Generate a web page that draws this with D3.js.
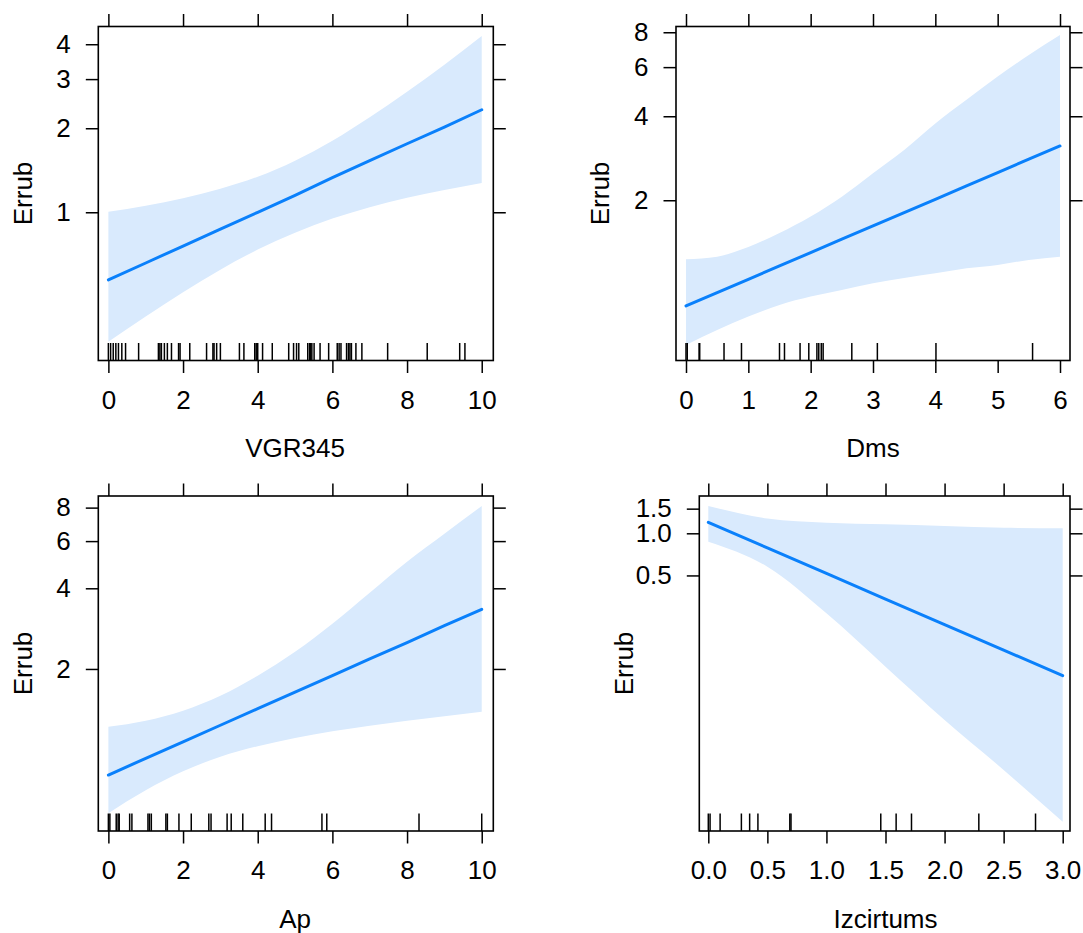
<!DOCTYPE html>
<html>
<head>
<meta charset="utf-8">
<script src="https://cdn.jsdelivr.net/npm/d3@7"></script>
<style>
  html, body { margin: 0; padding: 0; background: #fff; }
  svg { display: block; }
  text { font-family: "Liberation Sans", Arial, sans-serif; fill: #000; }
</style>
</head>
<body>
<svg id="chart" width="1083" height="933"></svg>
<script>
// ---------------- data ----------------
const yLabel = "Errub";

// Panel 1: VGR345
const vgrX     = [0, 1, 2, 3, 4, 5, 6, 7, 8, 9, 10];
const vgrFit   = [0.572, 0.658, 0.757, 0.871, 1.00, 1.15, 1.33, 1.53, 1.76, 2.02, 2.33];
const vgrLower = [0.344, 0.423, 0.517, 0.623, 0.735, 0.845, 0.949, 1.043, 1.128, 1.202, 1.273];
const vgrUpper = [1.005, 1.056, 1.123, 1.215, 1.341, 1.531, 1.805, 2.192, 2.705, 3.38, 4.283];
const vgrRug   = [0, 0.06, 0.13, 0.2, 0.27, 0.36, 0.46, 0.81, 1.34, 1.38, 1.42, 1.5, 1.58, 1.69, 1.88, 1.92,
                  2.18, 2.63, 2.8, 2.83, 2.9, 3.0, 3.51, 3.63, 3.92, 3.96, 4.0, 4.13, 4.39, 4.83, 4.96, 5.04,
                  5.1, 5.34, 5.39, 5.42, 5.45, 5.51, 5.67, 5.9, 6.13, 6.18, 6.23, 6.38, 6.43, 6.47, 6.51,
                  6.63, 6.79, 7.48, 8.54, 9.41, 9.55];
const vgrXTicks = [0, 2, 4, 6, 8, 10];
const vgrYTicks = [1, 2, 3, 4];

// Panel 2: Dms
const dmsX     = [0, 0.5, 1, 1.5, 2, 2.5, 3, 3.5, 4, 4.5, 5, 5.5, 6];
const dmsFit   = [0.836, 0.933, 1.042, 1.163, 1.298, 1.45, 1.618, 1.806, 2.016, 2.25, 2.51, 2.81, 3.13];
const dmsLower = [0.606, 0.686, 0.766, 0.843, 0.903, 0.954, 1.008, 1.054, 1.095, 1.141, 1.173, 1.222, 1.256];
const dmsUpper = [1.23, 1.256, 1.36, 1.527, 1.75, 2.06, 2.50, 3.03, 3.77, 4.58, 5.55, 6.63, 7.82];
const dmsRug   = [0, 0.02, 0.21, 0.22, 0.61, 0.89, 1.5, 1.58, 1.83, 1.97, 2.1, 2.13, 2.17, 2.2, 2.66, 3.07, 4.01, 5.56];
const dmsXTicks = [0, 1, 2, 3, 4, 5, 6];
const dmsYTicks = [2, 4, 6, 8];

// Panel 3: Ap
const apX     = [0, 1, 2, 3, 4, 5, 6, 7, 8, 9, 10];
const apFit   = [0.804, 0.928, 1.069, 1.233, 1.422, 1.639, 1.89, 2.18, 2.51, 2.90, 3.34];
const apLower = [0.579, 0.705, 0.830, 0.941, 1.030, 1.106, 1.171, 1.228, 1.282, 1.333, 1.386];
const apUpper = [1.218, 1.283, 1.398, 1.590, 1.888, 2.320, 2.952, 3.852, 5.028, 6.395, 8.11];
const apRug   = [0, 0.04, 0.21, 0.26, 0.29, 0.57, 0.63, 1.06, 1.1, 1.15, 1.54, 1.58, 1.89, 2.22, 2.69, 2.75,
                 3.18, 3.29, 3.6, 4.2, 4.37, 5.72, 5.85, 8.32, 10];
const apXTicks = [0, 2, 4, 6, 8, 10];
const apYTicks = [2, 4, 6, 8];

// Panel 4: Izcirtums
const izcX     = [0, 0.5, 1, 1.5, 2, 2.5, 3];
const izcFit   = [1.198, 0.787, 0.517, 0.339, 0.223, 0.1465, 0.0961];
const izcLower = [0.871, 0.577, 0.268, 0.1115, 0.0464, 0.0204, 0.0087];
const izcUpper = [1.567, 1.275, 1.19, 1.16, 1.127, 1.096, 1.086];
const izcRug   = [0, 0.015, 0.1, 0.28, 0.35, 0.42, 0.69, 0.7, 1.46, 1.59, 1.72, 2.29, 2.77];
const izcXTicks = [0, 0.5, 1, 1.5, 2, 2.5, 3];
const izcYTicks = [0.5, 1.0, 1.5];

// ---------------- layout ----------------
const panels = [
  { title: "VGR345", xs: vgrX, fit: vgrFit, lo: vgrLower, hi: vgrUpper, rug: vgrRug,
    xTicks: vgrXTicks, yTicks: vgrYTicks, fmt: d3.format("d"),
    box: { left: 98.3, top: 26.5, right: 493.3, bottom: 360.5 },
    xDomain: [-0.27, 10.31], yDomain: [0.2944, 4.63] },
  { title: "Dms", xs: dmsX, fit: dmsFit, lo: dmsLower, hi: dmsUpper, rug: dmsRug,
    xTicks: dmsXTicks, yTicks: dmsYTicks, fmt: d3.format("d"),
    box: { left: 676, top: 26.5, right: 1070, bottom: 360.5 },
    xDomain: [-0.1604, 6.1604], yDomain: [0.533, 8.39] },
  { title: "Ap", xs: apX, fit: apFit, lo: apLower, hi: apUpper, rug: apRug,
    xTicks: apXTicks, yTicks: apYTicks, fmt: d3.format("d"),
    box: { left: 98.3, top: 496, right: 493.3, bottom: 831 },
    xDomain: [-0.27, 10.31], yDomain: [0.497, 8.84] },
  { title: "Izcirtums", xs: izcX, fit: izcFit, lo: izcLower, hi: izcUpper, rug: izcRug,
    xTicks: izcXTicks, yTicks: izcYTicks, fmt: d3.format(".1f"),
    box: { left: 699.3, top: 496, right: 1070, bottom: 831 },
    xDomain: [-0.0762, 3.0618], yDomain: [0.00747, 1.847] }
];

const FONT = 26;
const TICK = 12.5;
const svg = d3.select("#chart");

panels.forEach(p => {
  const b = p.box;
  const x = d3.scaleLinear().domain(p.xDomain).range([b.left, b.right]);
  const y = d3.scaleLog().domain(p.yDomain).range([b.bottom, b.top]);
  const g = svg.append("g");
  const pts = p.xs.map((v, i) => ({ x: v, fit: p.fit[i], lo: p.lo[i], hi: p.hi[i] }));

  // confidence band
  g.append("path")
    .datum(pts)
    .attr("fill", "#d9eafd")
    .attr("stroke", "none")
    .attr("d", d3.area().x(d => x(d.x)).y0(d => y(d.lo)).y1(d => y(d.hi)).curve(d3.curveMonotoneX));

  // fitted line
  g.append("path")
    .datum(pts)
    .attr("fill", "none")
    .attr("stroke", "#0a80fb")
    .attr("stroke-width", 3)
    .attr("stroke-linecap", "round")
    .attr("d", d3.line().x(d => x(d.x)).y(d => y(d.fit)));

  // rug
  g.selectAll("line.rug").data(p.rug).enter().append("line")
    .attr("class", "rug")
    .attr("x1", d => x(d)).attr("x2", d => x(d))
    .attr("y1", b.bottom).attr("y2", b.bottom - 17.5)
    .attr("stroke", "#000").attr("stroke-width", 1.5);

  // axes
  const styleAxis = sel => {
    sel.select(".domain").remove();
    sel.selectAll(".tick line").attr("stroke", "#000").attr("stroke-width", 1.5);
    sel.selectAll(".tick text").style("font-size", FONT + "px")
      .attr("fill", "#000").style("font-family", '"Liberation Sans", Arial, sans-serif');
  };

  g.append("g").attr("transform", `translate(0,${b.bottom})`)
    .call(d3.axisBottom(x).tickValues(p.xTicks).tickFormat(p.fmt).tickSize(TICK).tickSizeOuter(0).tickPadding(17.5))
    .call(styleAxis);
  g.append("g").attr("transform", `translate(0,${b.top})`)
    .call(d3.axisTop(x).tickValues(p.xTicks).tickFormat("").tickSize(TICK).tickSizeOuter(0))
    .call(styleAxis);
  g.append("g").attr("transform", `translate(${b.left},0)`)
    .call(d3.axisLeft(y).tickValues(p.yTicks).tickFormat(p.fmt).tickSize(TICK).tickSizeOuter(0).tickPadding(15))
    .call(styleAxis);
  g.append("g").attr("transform", `translate(${b.right},0)`)
    .call(d3.axisRight(y).tickValues(p.yTicks).tickFormat("").tickSize(TICK).tickSizeOuter(0))
    .call(styleAxis);

  // panel box
  g.append("rect")
    .attr("x", b.left).attr("y", b.top)
    .attr("width", b.right - b.left).attr("height", b.bottom - b.top)
    .attr("fill", "none").attr("stroke", "#000").attr("stroke-width", 1.6);

  // x title
  g.append("text")
    .attr("x", (x(p.xTicks[0]) + x(p.xTicks[p.xTicks.length - 1])) / 2)
    .attr("y", b.bottom + 96.8)
    .attr("text-anchor", "middle")
    .style("font-size", FONT + "px")
    .text(p.title);

  // y title
  g.append("text")
    .attr("transform", `translate(${b.left - 76 + 9.4},${(b.top + b.bottom) / 2}) rotate(-90)`)
    .attr("text-anchor", "middle")
    .style("font-size", FONT + "px")
    .text(yLabel);
});
</script>
</body>
</html>
